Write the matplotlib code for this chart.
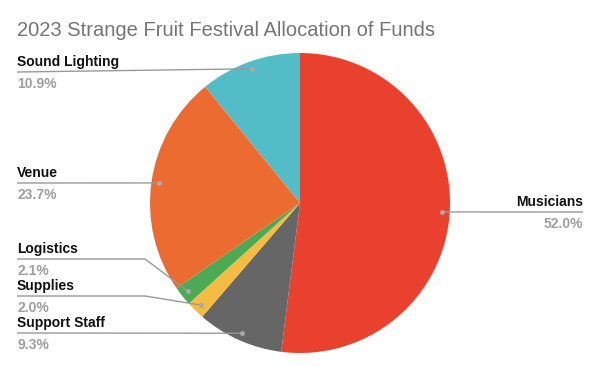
import numpy as np
from matplotlib import pyplot as plt

# data (clockwise from 12 o'clock)
categories = ["Musicians", "Support Staff", "Supplies", "Logistics", "Venue", "Sound Lighting"]
shares = [52.0, 9.3, 2.0, 2.1, 23.7, 10.9]
colors = ["#E9412E", "#666666", "#F4BC42", "#4CAA54", "#EB6B31", "#53BDC7"]

H = 366
CX, CY, R = 300, 203, 150  # pie centre / radius in pixels (y down)

# label layout: (x of text, y of leader line in px, side, kink x)
label_pos = {
    "Musicians": (583, 212, "right", None),
    "Support Staff": (17, 333, "left", None),
    "Supplies": (17, 296, "left", 145),
    "Logistics": (17, 259, "left", 145),
    "Venue": (17, 183, "left", None),
    "Sound Lighting": (17, 72, "left", None),
}

fig = plt.figure(figsize=(6, 3.66), dpi=100)
ax = fig.add_axes([0, 0, 1, 1])
ax.pie(shares, colors=colors, startangle=90, counterclock=False,
       center=(CX, H - CY), radius=R, wedgeprops=dict(linewidth=0))
ax.set_xlim(0, 600)
ax.set_ylim(0, H)
ax.set_aspect("equal")
ax.axis("off")

fig.text(17 / 600, 1 - 30 / H, "2023 Strange Fruit Festival Allocation of Funds",
         fontsize=14.5, color="#757575", family="Liberation Sans", va="center", ha="left")

start = 90.0
for name, val in zip(categories, shares):
    mid = np.deg2rad(start - val / 100 * 360 / 2)
    start -= val / 100 * 360
    dx = CX + 0.95 * R * np.cos(mid)
    dy = (H - CY) + 0.95 * R * np.sin(mid)
    tx, ly, side, kink = label_pos[name]
    ly = H - ly
    if side == "left":
        if kink is None:
            xs, ys = [tx, dx], [ly, dy]
        else:
            xs, ys = [tx, kink, dx], [ly, ly, dy]
        ha = "left"
    else:
        xs, ys = [dx, tx], [dy, ly]
        ha = "right"
    ax.plot(xs, ys, color="#999999", lw=1, solid_capstyle="butt")
    ax.plot(dx, dy, "o", color="#aaaaaa", markersize=3.5, markeredgewidth=0)
    ax.text(tx, ly + 3, name, ha=ha, va="bottom", fontsize=10, fontweight="bold",
            color="#111111", family="Liberation Sans")
    ax.text(tx, ly - 5, f"{val:.1f}%", ha=ha, va="top", fontsize=10, fontweight="bold",
            color="#9e9e9e", family="Liberation Sans")

fig.savefig("out.png", dpi=100)
